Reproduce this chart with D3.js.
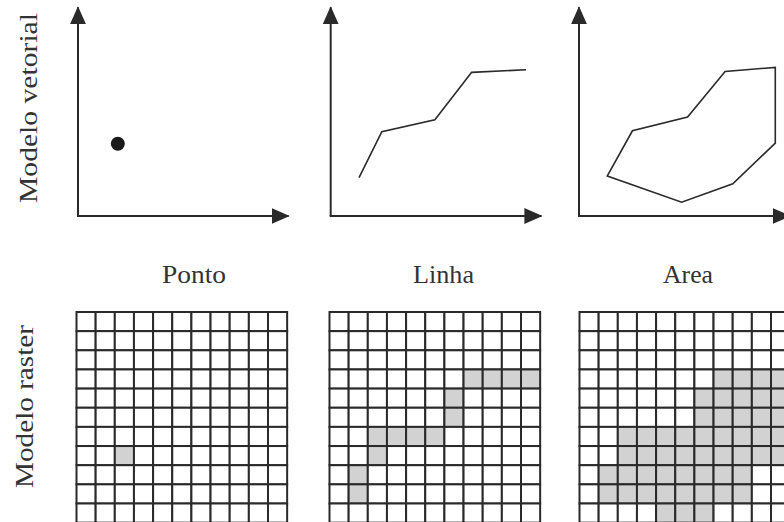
<!DOCTYPE html>
<html>
<head>
<meta charset="utf-8">
<script src="https://cdn.jsdelivr.net/npm/d3@7"></script>
<style>
  html, body { margin: 0; padding: 0; background: #fff; }
  svg { display: block; }
  text { font-family: "Liberation Serif", "DejaVu Serif", serif; fill: #333; }
</style>
</head>
<body>
<svg id="chart" width="784" height="522"></svg>
<script>
// ---- data (units = raster cells, 11 x 11 grid) ----
const panelTitles = ["Ponto", "Linha", "Area"];
const rowLabels = ["Modelo vetorial", "Modelo raster"];
const gridSize = 11;

// vector model
const pointData = [[2.08, 3.77]];
const lineData = [[1.48, 2.0], [2.67, 4.4], [5.44, 5.03], [7.36, 7.5], [10.2, 7.64]];
const areaData = [[1.48, 2.09], [2.79, 4.45], [5.67, 5.17], [7.63, 7.55], [10.25, 7.76],
                  [10.25, 3.81], [8.03, 1.68], [5.36, 0.72]];

// raster model: filled cells [col, row-from-top]
const pointCells = [[2, 7]];
const lineCells = [[7, 3], [8, 3], [9, 3], [10, 3], [6, 4], [6, 5],
                   [2, 6], [3, 6], [4, 6], [5, 6], [2, 7], [1, 8], [1, 9]];
// area raster as row runs [row, firstCol, lastCol]
const areaRuns = [[3, 7, 10], [4, 6, 10], [5, 6, 10], [6, 2, 10], [7, 2, 10],
                  [8, 1, 8], [9, 1, 8], [10, 4, 6]];

// ---- layout ----
const svg = d3.select("#chart");
const cell = 19.15;
const vecOriginX = [78, 330.7, 579];
const vecOriginY = 216;
const axisLen = 10.9; // in cell units
const rasterX0 = [76.5, 329.5, 579.5];
const rasterY0 = 312;
const titleX = [194, 443.5, 688];
const titleLen = [64, 61, 50];
const dark = "#2a2a2a";

const areaCells = [];
areaRuns.forEach(([r, c0, c1]) => { for (let c = c0; c <= c1; c++) areaCells.push([c, r]); });
const rasters = [pointCells, lineCells, areaCells];

// arrow marker
const defs = svg.append("defs");
defs.append("marker")
  .attr("id", "arrow")
  .attr("viewBox", "0 0 18 16")
  .attr("refX", 17).attr("refY", 8)
  .attr("markerWidth", 18).attr("markerHeight", 16)
  .attr("markerUnits", "userSpaceOnUse")
  .attr("orient", "auto")
  .append("path")
  .attr("d", "M0,0 L18,8 L0,16 Z")
  .attr("fill", dark);

for (let p = 0; p < 3; p++) {
  const x = d3.scaleLinear().domain([0, gridSize]).range([vecOriginX[p], vecOriginX[p] + gridSize * cell]);
  const y = d3.scaleLinear().domain([0, gridSize]).range([vecOriginY, vecOriginY - gridSize * cell]);
  const g = svg.append("g");
  // axes
  g.append("line")
    .attr("x1", x(0)).attr("y1", y(0)).attr("x2", x(0)).attr("y2", y(axisLen))
    .attr("stroke", dark).attr("stroke-width", 2).attr("marker-end", "url(#arrow)");
  g.append("line")
    .attr("x1", x(0) - 1).attr("y1", y(0)).attr("x2", x(axisLen + 0.1)).attr("y2", y(0))
    .attr("stroke", dark).attr("stroke-width", 2).attr("marker-end", "url(#arrow)");

  if (p === 0) {
    g.selectAll("circle").data(pointData).join("circle")
      .attr("cx", d => x(d[0])).attr("cy", d => y(d[1])).attr("r", 7)
      .attr("fill", "#1a1a1a");
  } else if (p === 1) {
    g.append("path")
      .attr("d", d3.line().x(d => x(d[0])).y(d => y(d[1]))(lineData))
      .attr("fill", "none").attr("stroke", dark).attr("stroke-width", 1.6);
  } else {
    g.append("path")
      .attr("d", d3.line().x(d => x(d[0])).y(d => y(d[1])).curve(d3.curveLinearClosed)(areaData))
      .attr("fill", "none").attr("stroke", dark).attr("stroke-width", 1.6)
      .attr("stroke-linejoin", "miter");
  }

  // title
  svg.append("text")
    .attr("x", titleX[p]).attr("y", 283)
    .attr("text-anchor", "middle")
    .attr("font-size", 26)
    .attr("textLength", titleLen[p]).attr("lengthAdjust", "spacingAndGlyphs")
    .text(panelTitles[p]);

  // raster grid
  const gx = d3.scaleLinear().domain([0, gridSize]).range([rasterX0[p], rasterX0[p] + gridSize * cell]);
  const gy = d3.scaleLinear().domain([0, gridSize]).range([rasterY0, rasterY0 + gridSize * cell]);
  const rg = svg.append("g");
  const all = d3.cross(d3.range(gridSize), d3.range(gridSize));
  const filled = new Set(rasters[p].map(d => d[0] + "," + d[1]));
  rg.selectAll("rect").data(all).join("rect")
    .attr("x", d => gx(d[0])).attr("y", d => gy(d[1]))
    .attr("width", cell).attr("height", cell)
    .attr("fill", d => filled.has(d[0] + "," + d[1]) ? "#d2d2d2" : "#fff")
    .attr("stroke", dark).attr("stroke-width", 2);
}

// row labels
const rowLabelPos = [[37, 108, 190], [33, 406.5, 163]];
rowLabels.forEach((t, i) => {
  svg.append("text")
    .attr("transform", `translate(${rowLabelPos[i][0]},${rowLabelPos[i][1]}) rotate(-90)`)
    .attr("text-anchor", "middle")
    .attr("font-size", 26)
    .attr("textLength", rowLabelPos[i][2]).attr("lengthAdjust", "spacingAndGlyphs")
    .text(t);
});
</script>
</body>
</html>
